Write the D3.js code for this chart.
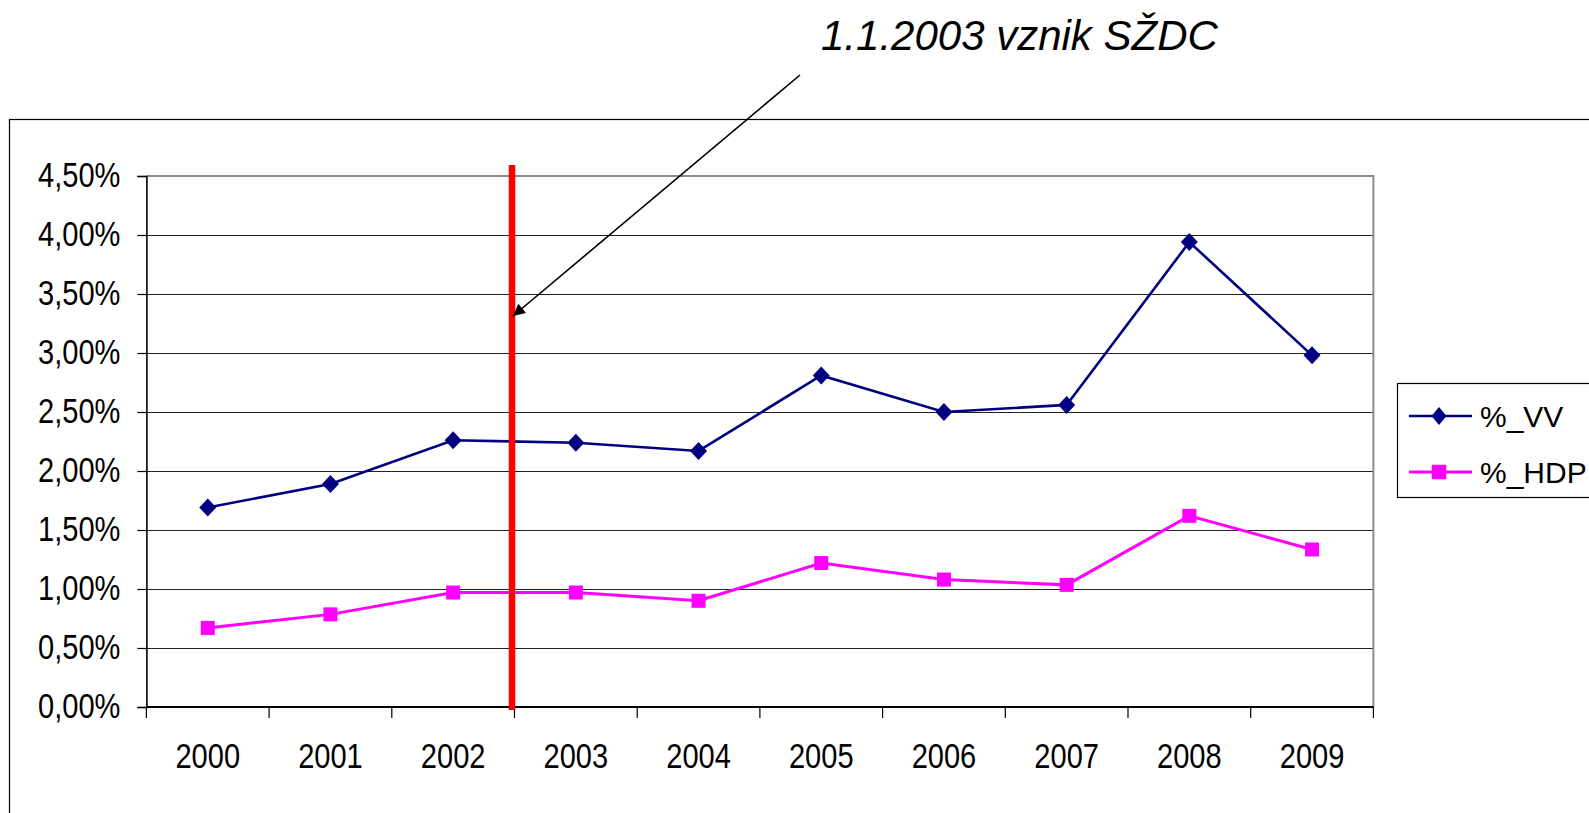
<!DOCTYPE html>
<html>
<head>
<meta charset="utf-8">
<script src="https://cdn.jsdelivr.net/npm/d3@7"></script>
<style>
    html, body { margin: 0; padding: 0; background: #ffffff; overflow: hidden; }
    text { font-family: "Liberation Sans", Arial, sans-serif; }
</style>
</head>
<body>
<div id="svg"></div>
<script>
// data
var years = ['2000', '2001', '2002', '2003', '2004', '2005', '2006', '2007', '2008', '2009'];
var vvValues = [1.69, 1.89, 2.26, 2.24, 2.17, 2.81, 2.50, 2.56, 3.94, 2.98];
var hdpValues = [0.67, 0.785, 0.97, 0.97, 0.90, 1.22, 1.08, 1.035, 1.62, 1.335];
var yTicks = [0, 0.5, 1, 1.5, 2, 2.5, 3, 3.5, 4, 4.5];
var seriesNames = ['%_VV', '%_HDP'];
var markerYear = 2003;
var noteText = '1.1.2003 vznik SŽDC';

var plot = { left: 146.4, right: 1373.4, top: 176, bottom: 707 };
var squeeze = 0.83;   // axis labels are drawn narrower than they are tall

var container = d3.select('#svg').append('svg')
    .attr('width', 1589)
    .attr('height', 813);

var x = d3.scaleBand().domain(years).range([plot.left, plot.right]);
var y = d3.scaleLinear().domain([0, 4.5]).range([plot.bottom, plot.top]);

function fmt(v) {
    return v.toFixed(2).replace('.', ',') + '%';
}

// outer chart frame, runs past the right and bottom edge
container.append('rect')
    .attr('x', 9.5).attr('y', 119.5)
    .attr('width', 1700).attr('height', 800)
    .attr('fill', 'none')
    .attr('stroke', '#000').attr('stroke-width', 1.2);

// gridlines
container.append('g').selectAll('line')
    .data(yTicks.filter(function(d) { return d > 0 && d < 4.5; }))
    .enter().append('line')
    .attr('x1', plot.left).attr('x2', plot.right)
    .attr('y1', function(d) { return Math.round(y(d)) + 0.5; })
    .attr('y2', function(d) { return Math.round(y(d)) + 0.5; })
    .attr('stroke', '#222').attr('stroke-width', 1.2);

// plot area border (top / right grey)
container.append('path')
    .attr('d', 'M' + plot.left + ',' + plot.top + 'H' + plot.right + 'V' + plot.bottom)
    .attr('fill', 'none')
    .attr('stroke', '#8c8c8c').attr('stroke-width', 2);

// y axis
var yAxis = d3.axisLeft(y).tickValues(yTicks).tickSize(9).tickPadding(17).tickFormat(fmt);
var gy = container.append('g')
    .attr('transform', 'translate(' + plot.left + ',0)')
    .call(yAxis);
gy.select('.domain').attr('stroke', '#000').attr('stroke-width', 1.6);
gy.selectAll('.tick line').attr('stroke', '#000').attr('stroke-width', 1.2);
gy.selectAll('.tick text')
    .attr('fill', '#000')
    .attr('font-size', '35px')
    .attr('dy', '0.3em')
    .each(function() {
        var t = d3.select(this);
        var tx = +t.attr('x');
        t.attr('x', null).attr('transform', 'translate(' + tx + ',0) scale(' + squeeze + ',1)');
    });

// x axis, ticks sit between the categories
var gx = container.append('g')
    .attr('transform', 'translate(0,' + plot.bottom + ')');
gx.append('line')
    .attr('x1', plot.left).attr('x2', plot.right)
    .attr('stroke', '#000').attr('stroke-width', 1.8);
gx.selectAll('.tk')
    .data(years.concat(['end']))
    .enter().append('line')
    .attr('class', 'tk')
    .attr('x1', function(d, i) { return plot.left + i * x.bandwidth(); })
    .attr('x2', function(d, i) { return plot.left + i * x.bandwidth(); })
    .attr('y1', 0).attr('y2', 11)
    .attr('stroke', '#000').attr('stroke-width', 1.2);
gx.selectAll('.lbl')
    .data(years)
    .enter().append('text')
    .attr('class', 'lbl')
    .attr('text-anchor', 'middle')
    .attr('font-size', '35px')
    .attr('fill', '#000')
    .attr('transform', function(d) {
        return 'translate(' + (x(d) + x.bandwidth() / 2) + ',61) scale(' + squeeze + ',1)';
    })
    .text(function(d) { return d; });

// series lines
var line = d3.line()
    .x(function(d, i) { return x(years[i]) + x.bandwidth() / 2; })
    .y(function(d) { return y(d); });

container.append('path')
    .datum(vvValues)
    .attr('d', line)
    .attr('fill', 'none')
    .attr('stroke', '#000080').attr('stroke-width', 2.6);

container.append('path')
    .datum(hdpValues)
    .attr('d', line)
    .attr('fill', 'none')
    .attr('stroke', '#ff00ff').attr('stroke-width', 3);

function diamond(g, cx, cy, w, h) {
    g.append('path')
        .attr('d', 'M' + cx + ',' + (cy - h / 2) + 'L' + (cx + w / 2) + ',' + cy +
            'L' + cx + ',' + (cy + h / 2) + 'L' + (cx - w / 2) + ',' + cy + 'Z')
        .attr('fill', '#000080');
}

function square(g, cx, cy, s) {
    g.append('rect')
        .attr('x', cx - s / 2).attr('y', cy - s / 2)
        .attr('width', s).attr('height', s)
        .attr('fill', '#ff00ff');
}

var marks = container.append('g');
vvValues.forEach(function(v, i) {
    diamond(marks, x(years[i]) + x.bandwidth() / 2, y(v), 17, 18);
});
hdpValues.forEach(function(v, i) {
    square(marks, x(years[i]) + x.bandwidth() / 2, y(v), 14);
});

// red marker for the SZDC start
var redX = x(String(markerYear)) - 2.5;
container.append('line')
    .attr('x1', redX).attr('x2', redX)
    .attr('y1', 165).attr('y2', 710)
    .attr('stroke', '#ff0000').attr('stroke-width', 6.5);

// annotation with arrow
container.append('defs').append('marker')
    .attr('id', 'head')
    .attr('viewBox', '0 0 10 10')
    .attr('refX', 10).attr('refY', 5)
    .attr('markerWidth', 18).attr('markerHeight', 12)
    .attr('markerUnits', 'userSpaceOnUse')
    .attr('orient', 'auto')
    .append('path')
    .attr('d', 'M0,0L10,5L0,10Z')
    .attr('fill', '#000');

container.append('line')
    .attr('x1', 800).attr('y1', 75)
    .attr('x2', redX + 1).attr('y2', 316)
    .attr('stroke', '#000').attr('stroke-width', 1.6)
    .attr('marker-end', 'url(#head)');

container.append('text')
    .attr('x', 821).attr('y', 50)
    .attr('font-size', '42px')
    .attr('font-style', 'italic')
    .attr('fill', '#000')
    .text(noteText);

// legend
var legend = container.append('g');
legend.append('rect')
    .attr('x', 1397.5).attr('y', 383.5)
    .attr('width', 300).attr('height', 114)
    .attr('fill', '#fff')
    .attr('stroke', '#000').attr('stroke-width', 1.2);

var rows = [416, 472];
legend.append('line')
    .attr('x1', 1409).attr('x2', 1472).attr('y1', rows[0]).attr('y2', rows[0])
    .attr('stroke', '#000080').attr('stroke-width', 2.6);
diamond(legend, 1439, rows[0], 15, 18);
legend.append('line')
    .attr('x1', 1409).attr('x2', 1472).attr('y1', rows[1]).attr('y2', rows[1])
    .attr('stroke', '#ff00ff').attr('stroke-width', 3);
square(legend, 1439, rows[1], 14.5);

legend.selectAll('.lt')
    .data(seriesNames)
    .enter().append('text')
    .attr('class', 'lt')
    .attr('x', 1480)
    .attr('y', function(d, i) { return rows[i] + 11; })
    .attr('font-size', '30px')
    .attr('fill', '#000')
    .text(function(d) { return d; });
</script>
</body>
</html>
